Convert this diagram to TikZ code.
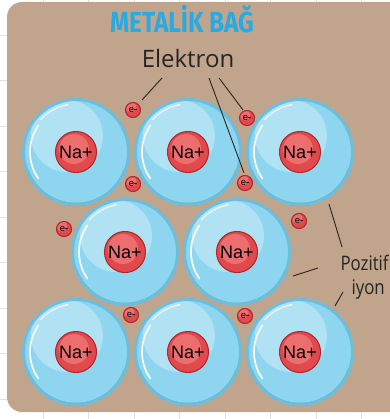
\documentclass[tikz,border=0pt]{standalone}
\usepackage{fontspec}
\setmainfont{Liberation Sans}
\newfontfamily\handfont{Open Sans}
\newfontfamily\titlefont{Fira Sans}
\usepackage{graphicx}

\definecolor{board}{RGB}{193,164,140}
\definecolor{gridgray}{RGB}{224,224,224}
\definecolor{shellblue}{RGB}{142,214,240}
\definecolor{shellrim}{RGB}{108,190,218}
\definecolor{shelllight}{RGB}{176,226,243}
\definecolor{shelldark}{RGB}{104,176,196}
\definecolor{corered}{RGB}{224,74,76}
\definecolor{corerim}{RGB}{176,40,46}
\definecolor{corelight}{RGB}{236,110,110}
\definecolor{titleblue}{RGB}{40,170,226}
\definecolor{ink}{RGB}{40,36,34}

\tikzset{
  gridline/.style={gridgray, line width=0.7pt},
  shell/.style={circle, minimum size=105pt, inner sep=0pt, fill=shellblue,
    draw=shellrim, line width=3pt,
    path picture={
      \fill[shelllight] ([xshift=-9pt,yshift=16pt]path picture bounding box.center) circle (36pt);
      \draw[shelldark, line width=2.5pt] ([shift={(200:52pt)}]path picture bounding box.center)
        arc[start angle=200, end angle=340, radius=52pt];
      \draw[white, line width=1.6pt, line cap=round] ([shift={(145:46pt)}]path picture bounding box.center)
        arc[start angle=145, end angle=215, radius=46pt];
      \draw[white!60!shelllight, line width=1.6pt, line cap=round] ([shift={(100:48pt)}]path picture bounding box.center)
        arc[start angle=100, end angle=138, radius=48pt];
    }},
  core/.style={circle, inner sep=0pt, fill=corered, draw=corerim, line width=1.1pt,
    path picture={
      \fill[corelight] ([xshift=-2pt,yshift=3pt]path picture bounding box.center) circle (#1);
    }},
  nucleus/.style={core=15pt, minimum size=41pt, font=\fontsize{18}{18}\selectfont},
  electron/.style={core=5.5pt, minimum size=15pt, font=\fontsize{9.5}{9.5}\selectfont},
  leader/.style={ink, line width=0.9pt},
  hand/.style={ink, font=\handfont\fontsize{#1}{#1}\selectfont},
}

\begin{document}
\begin{tikzpicture}[x=1pt, y=-1pt]
	\useasboundingbox (0,0) rectangle (389,419);
%
	% paper grid and board
	\foreach \i in {0,...,7}
		\draw[gridline] ({43+45.5*\i},0) -- ({43+45.5*\i},419);
	\foreach \j in {0,...,8}
		\draw[gridline] (0,{35+45.5*\j}) -- (389,{35+45.5*\j});
	\fill[board, rounded corners=15pt] (7,2) rectangle (410,412);
%
	% positive ions, three rows
	\foreach \x/\y/\n in {76/152/1, 188/152/2, 300/152/3, 125/252/4, 237/252/5,
	                      76/352/6, 188/352/7, 300/352/8}{
		\node[shell] (s\n) at (\x,\y) {};
		\node[nucleus] (na\n) at (s\n) {Na+};
	}
%
	% free electrons
	\foreach \x/\y/\n in {133/110/1, 247/118/2, 133/184/3, 245/183/4, 64/229/5,
	                      299/221/6, 131/315/7, 245/316/8}
		\node[electron] (e\n) at (\x,\y) {e\textbf{-}};
%
	\node[anchor=base, titleblue, font=\titlefont\bfseries\fontsize{29}{29}\selectfont]
		(title) at (182,33) {\scalebox{0.84}[1]{METAL\.IK BA\u{G}}};
	\node[anchor=base, hand=24] (elektron) at (188,68) {Elektron};
	\node[anchor=base west, hand=20] (pozitif) at (337,270) {\scalebox{0.84}[1]{Pozitif}};
	\node[anchor=base west, hand=20] (iyon) at (348,294) {\scalebox{0.84}[1]{iyon}};
%
	% leader lines
	\coordinate (el1) at (162,78);
	\coordinate (el2) at (209,78);
	\coordinate (el3) at (219,78);
	\coordinate (el1tip) at (142,100);
	\coordinate (el2tip) at (244,173);
	\coordinate (el3tip) at (243,110);
	\draw[leader] (el1) -- (el1tip);
	\draw[leader] (el2) -- (el2tip);
	\draw[leader] (el3) -- (el3tip);
%
	\coordinate (po1) at (342,247);
	\coordinate (po2) at (318,268);
	\coordinate (po3) at (343,292);
	\coordinate (po1tip) at (329,204);
	\coordinate (po2tip) at (293,276);
	\coordinate (po3tip) at (335,306);
	\draw[leader] (po1) -- (po1tip);
	\draw[leader] (po2) -- (po2tip);
	\draw[leader] (po3) -- (po3tip);
\end{tikzpicture}
\end{document}
